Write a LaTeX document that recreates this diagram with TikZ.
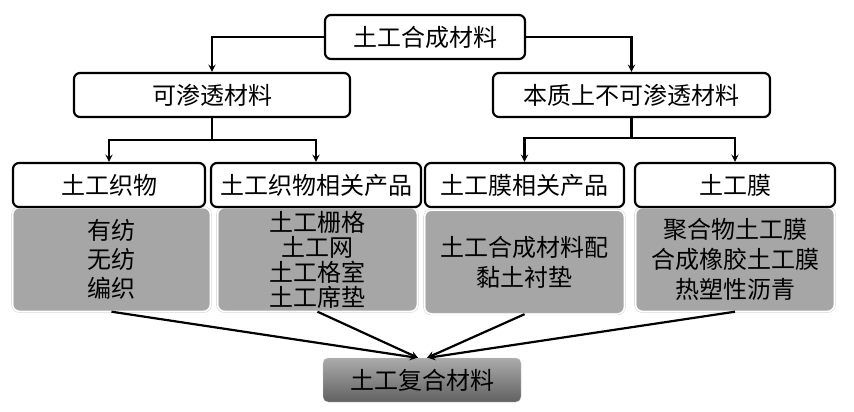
\documentclass[tikz,border=0pt]{standalone}
\usepackage{fontspec}
\setmainfont{Noto Sans CJK SC}
\usetikzlibrary{shapes,arrows,positioning}
\definecolor{boxgray}{HTML}{A6A6A6}
\tikzstyle{wbox} = [rectangle, draw, line width=2.2pt, rounded corners=6pt, fill=white, minimum height=44pt, inner sep=0pt, font=\fontsize{24}{28}\selectfont]
\tikzstyle{gbox} = [rectangle, draw=black!22, double=white, double distance=1.5pt, rounded corners=7pt, fill=boxgray, minimum height=104pt, inner sep=0pt, align=center, font=\fontsize{24}{29}\selectfont]
\tikzstyle{cbox} = [rectangle, draw=black!20, rounded corners=5pt, top color=black!33, bottom color=black!62, minimum width=198pt, minimum height=44pt, inner sep=0pt, font=\fontsize{24}{28}\selectfont]
\tikzstyle{line} = [draw, line width=2.2pt]
\tikzstyle{arrow} = [draw, line width=2.2pt, -stealth]

\begin{document}
\begin{tikzpicture}[x=1pt, y=-1pt]
			\useasboundingbox (0,0) rectangle (854,412);
			% grey boxes
			\node [gbox, minimum width=198pt] (gfab) at (111.5, 259.5) {有纺\\无纺\\编织};
			\node [gbox, minimum width=200pt, font=\fontsize{24}{25}\selectfont] (gfabr) at (317.5, 259.5) {土工栅格\\土工网\\土工格室\\土工席垫};
			\node [gbox, minimum width=200pt, font=\fontsize{24}{30}\selectfont] (gmemr) at (524.5, 262) {土工合成材料配\\黏土衬垫};
			\node [gbox, minimum width=199pt, font=\fontsize{24}{30}\selectfont] (gmem) at (735, 259.5) {聚合物土工膜\\合成橡胶土工膜\\热塑性沥青};
			% white boxes
			\node [wbox, minimum width=200pt] (top) at (425, 37) {土工合成材料};
			\node [wbox, minimum width=276pt] (perm) at (212, 95) {可渗透材料};
			\node [wbox, minimum width=277pt] (imp) at (631.5, 95) {本质上不可渗透材料};
			\node [wbox, minimum width=192pt] (fab) at (109, 185) {土工织物};
			\node [wbox, minimum width=210pt] (fabr) at (316, 185) {土工织物相关产品};
			\node [wbox, minimum width=199pt] (memr) at (524.5, 185) {土工膜相关产品};
			\node [wbox, minimum width=200pt] (mem) at (735, 185) {土工膜};
			\node [cbox] (comp) at (422, 380) {土工复合材料};
			\coordinate (pj) at (212, 140);
			\coordinate (ij) at (631.5, 138);

			\path [arrow] (top.west) -| (perm.north);
			\path [arrow] (top.east) -| (imp.north);
			\path [line] (perm.south) -- (pj);
			\path [arrow] (pj) -| (fab.north);
			\path [arrow] (pj) -| (fabr.north);
			\path [line] (imp.south) -- (ij);
			\path [arrow] (ij) -| (memr.north);
			\path [arrow] (ij) -| (mem.north);
			\path [arrow] (gfab.south) -- ([xshift=-5pt]comp.north);
			\path [arrow] (gfabr.south) -- ([xshift=-4pt]comp.north);
			\path [arrow] (gmemr.south) -- ([xshift=5pt]comp.north);
			\path [arrow] (gmem.south) -- ([xshift=6pt]comp.north);
		\end{tikzpicture}
\end{document}
